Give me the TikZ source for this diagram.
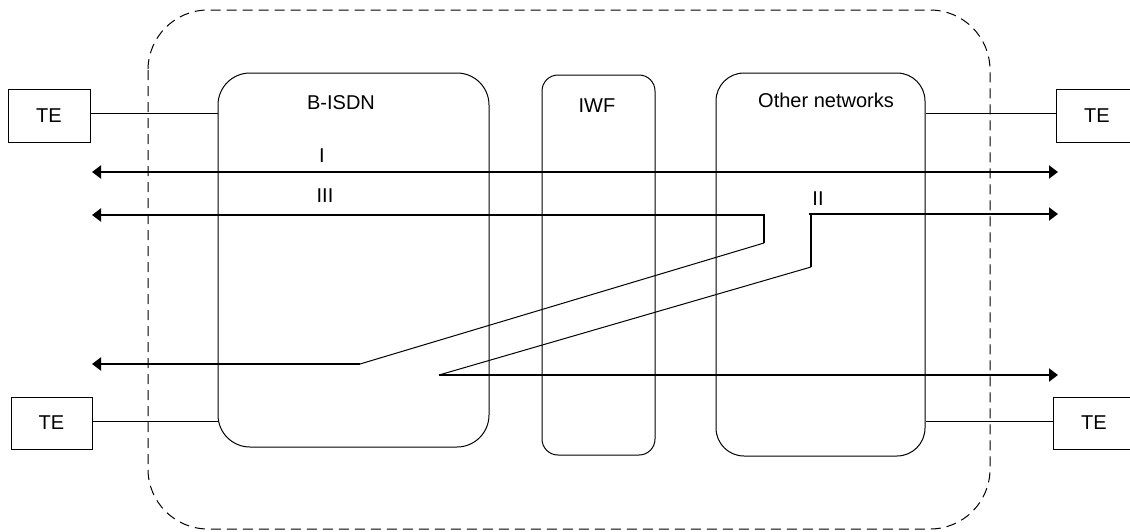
\documentclass[tikz,border=0pt]{standalone}
\usepackage{fontspec}
\setmainfont{Liberation Sans}
\usetikzlibrary{arrows.meta}
\begin{document}
\begin{tikzpicture}[x=1pt,y=-1pt,
  netbox/.style={draw, line width=1pt, rounded corners=#1, inner sep=0pt},
  tebox/.style={draw, line width=1pt, minimum width=82pt, minimum height=53pt, inner sep=0pt, font=\fontsize{20}{24}\selectfont},
  lbl/.style={anchor=base, inner sep=0pt, font=\fontsize{20}{24}\selectfont},
  thick line/.style={line width=2pt},
  thin line/.style={line width=1pt},
  tip/.style={-{Triangle[length=9pt,width=13pt]}},
  outer/.style={draw, dash pattern=on 10pt off 6pt, line width=1pt, rounded corners=60pt}
]
\useasboundingbox (0,0) rectangle (1130,531);
% outer dashed boundary
\draw[outer] (148,10) rectangle (990,529);
% network boxes
\node[netbox=32pt, minimum width=271pt, minimum height=374pt] (bisdn) at (353.5,260) {};
\node[netbox=16pt, minimum width=113pt, minimum height=380pt] (iwf) at (598.5,265) {};
\node[netbox=28pt, minimum width=209pt, minimum height=383pt] (other) at (820.5,264.5) {};
\node[lbl] (bisdnlbl) at (341,109) {B-ISDN};
\node[lbl] (iwflbl) at (597,112) {IWF};
\node[lbl] (otherlbl) at (826,107) {Other networks};
% terminal equipment
\node[tebox] (te1) at (49,115.5) {TE};
\node[tebox] (te2) at (1097,115.5) {TE};
\node[tebox, minimum width=81pt, minimum height=52pt] (te3) at (51.5,423) {TE};
\node[tebox, minimum width=82pt, minimum height=52pt] (te4) at (1094,423) {TE};
% access lines
\draw[thin line] ([yshift=2.5pt]te1.east) -- ([yshift=2.5pt]te1.east -| bisdn.west);
\draw[thin line] ([yshift=2.5pt]te2.west -| other.east) -- ([yshift=2.5pt]te2.west);
\draw[thin line] ([yshift=2pt]te3.east) -- ([yshift=2pt]te3.east -| bisdn.west);
\draw[thin line] ([yshift=2pt]te4.west -| other.east) -- ([yshift=2pt]te4.west);
% connection coordinates
\coordinate (iL) at (92,172);
\coordinate (iR) at (1058,172);
\coordinate (iiiL) at (92,215);
\coordinate (iiiA) at (764,215);
\coordinate (iiiB) at (764,243);
\coordinate (iiiC) at (360,364);
\coordinate (iiiD) at (92,364);
\coordinate (iiA) at (809,214);
\coordinate (iiB) at (811,214);
\coordinate (iiR) at (1058,214);
\coordinate (iiC) at (811,267);
\coordinate (iiD) at (439,375);
\coordinate (iiE) at (1058,375);
% connection I
\draw[thick line, {Triangle[length=9pt,width=13pt]}-{Triangle[length=9pt,width=13pt]}] (iL) -- (iR);
\node[lbl] (ilbl) at (322,162) {I};
% connection III
\draw[thick line, tip] (iiiB) -- (iiiA) -- (iiiL);
\draw[thin line] (iiiB) -- (iiiC);
\draw[thick line, tip] (iiiC) -- (iiiD);
\node[lbl] (iiilbl) at (325,202) {III};
% connection II
\draw[thick line, tip] (iiA) -- (iiR);
\draw[thick line] (iiB) -- (iiC);
\draw[thin line] (iiC) -- (iiD);
\draw[thick line, tip] (iiD) -- (iiE);
\node[lbl] (iilbl) at (818,205) {II};
\end{tikzpicture}
\end{document}
